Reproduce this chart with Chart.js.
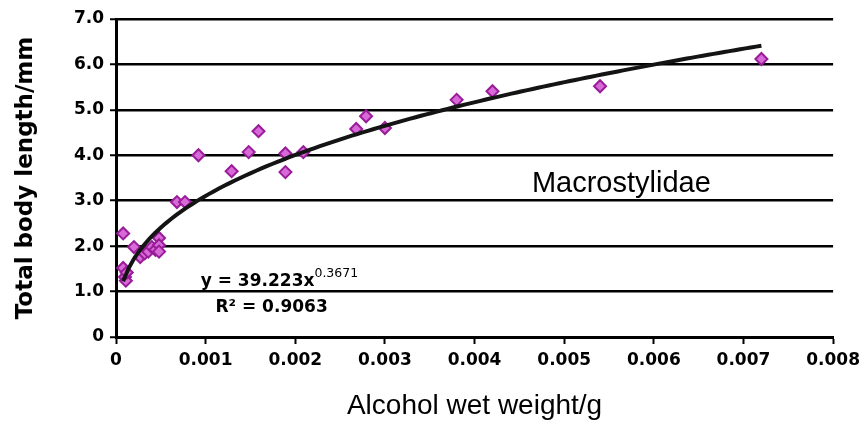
<!DOCTYPE html>
<html>
<head>
<meta charset="utf-8">
<script src="https://cdn.jsdelivr.net/npm/chart.js@4.4.1/dist/chart.umd.min.js"></script>
<style>
  html, body { margin: 0; padding: 0; background: #fff; }
  #wrap { width: 866px; height: 428px; position: relative; }
</style>
</head>
<body>
<div id="wrap"><canvas id="chart"></canvas></div>
<script>
// measured specimens: wet weight (g) vs total body length (mm)
const wetWeight = [0.00008, 0.00008, 0.0001, 0.00011, 0.00012, 0.0002, 0.00027, 0.00032, 0.00036, 0.0004,
  0.00044, 0.00048, 0.00048, 0.00048, 0.00068, 0.00077, 0.00092, 0.00129, 0.00148, 0.00159,
  0.00189, 0.00189, 0.00209, 0.00268, 0.00279, 0.003, 0.0038, 0.0042, 0.0054, 0.0072];
const bodyLength = [2.28, 1.52, 1.32, 1.24, 1.42, 1.98, 1.76, 1.84, 1.88, 1.98,
  1.92, 2.18, 2.02, 1.88, 2.97, 2.97, 4.0, 3.65, 4.07, 4.53,
  4.04, 3.63, 4.07, 4.58, 4.86, 4.6, 5.22, 5.41, 5.52, 6.12];

// power trendline y = a * x^b
const fitA = 39.223;
const fitB = 0.3671;
const fitR2 = 0.9063;
const fitFrom = 0.00008;
const fitTo = 0.0072;

const xTickLabels = ['0', '0.001', '0.002', '0.003', '0.004', '0.005', '0.006', '0.007', '0.008'];
const yTickLabels = ['0', '1.0', '2.0', '3.0', '4.0', '5.0', '6.0', '7.0'];

const points = wetWeight.map((x, i) => ({ x: x, y: bodyLength[i] }));

const trend = [];
const steps = 120;
for (let i = 0; i <= steps; i++) {
  const x = fitFrom + (fitTo - fitFrom) * i / steps;
  trend.push({ x: x, y: fitA * Math.pow(x, fitB) });
}

const boldFont = 'DejaVu Sans';

// species name and fit equation written inside the plot
const notes = {
  id: 'notes',
  afterDatasetsDraw(chart) {
    const { ctx, scales: { x, y } } = chart;
    ctx.save();
    ctx.fillStyle = '#000';
    ctx.textBaseline = 'alphabetic';

    ctx.font = '29px "Liberation Sans", Arial, sans-serif';
    ctx.fillText('Macrostylidae', x.getPixelForValue(0.00464), y.getPixelForValue(3.19));

    ctx.font = 'bold 17px "' + boldFont + '"';
    const ex = x.getPixelForValue(0.000945);
    const ey = y.getPixelForValue(1.12);
    const main = 'y = ' + fitA + 'x';
    ctx.fillText(main, ex, ey);
    const w = ctx.measureText(main).width;
    ctx.font = '12.5px "' + boldFont + '"';
    ctx.fillText(String(fitB), ex + w, ey - 9);

    ctx.font = 'bold 17px "' + boldFont + '"';
    ctx.fillText('R\u00B2 = ' + fitR2, x.getPixelForValue(0.00111), y.getPixelForValue(0.55));
    ctx.restore();
  }
};

new Chart(document.getElementById('chart'), {
  type: 'scatter',
  data: {
    datasets: [
      {
        label: 'Macrostylidae',
        data: points,
        pointStyle: 'rectRot',
        pointRadius: 6,
        pointBorderWidth: 2,
        backgroundColor: '#d86ad8',
        borderColor: '#991c99',
        order: 2
      },
      {
        label: 'Power fit',
        type: 'line',
        data: trend,
        borderColor: '#141414',
        borderWidth: 4,
        pointRadius: 0,
        fill: false,
        tension: 0,
        order: 1
      }
    ]
  },
  options: {
    responsive: true,
    maintainAspectRatio: false,
    animation: false,
    layout: { padding: { top: 19, right: 31, left: 0, bottom: 0 } },
    plugins: {
      legend: { display: false },
      tooltip: { enabled: false }
    },
    scales: {
      x: {
        type: 'linear',
        min: 0,
        max: 0.008,
        afterFit: (scale) => { scale.height = 91; },
        ticks: {
          stepSize: 0.001,
          color: '#000',
          padding: 6,
          maxRotation: 0,
          font: { family: boldFont, size: 17, weight: 'bold' },
          callback: (v, i) => xTickLabels[i]
        },
        grid: {
          drawOnChartArea: false,
          drawTicks: true,
          tickLength: 7,
          tickWidth: 2,
          tickColor: '#000'
        },
        border: { color: '#000', width: 3 },
        title: {
          display: true,
          text: 'Alcohol wet weight/g',
          color: '#000',
          font: { family: 'Liberation Sans', size: 28 },
          padding: { top: 0, bottom: 5 }
        }
      },
      y: {
        min: 0,
        max: 7,
        afterFit: (scale) => { scale.width = 116; },
        ticks: {
          stepSize: 1,
          color: '#000',
          padding: 6,
          font: { family: boldFont, size: 17, weight: 'bold' },
          callback: (v, i) => yTickLabels[i]
        },
        grid: {
          color: '#000',
          lineWidth: 2.5,
          tickLength: 6,
          tickWidth: 2,
          tickColor: '#000'
        },
        border: { color: '#000', width: 3 },
        title: {
          display: true,
          text: 'Total body length/mm',
          color: '#000',
          font: { family: boldFont, size: 23, weight: 'bold' },
          padding: { top: 12, bottom: 0 }
        }
      }
    }
  },
  plugins: [notes]
});
</script>
</body>
</html>
